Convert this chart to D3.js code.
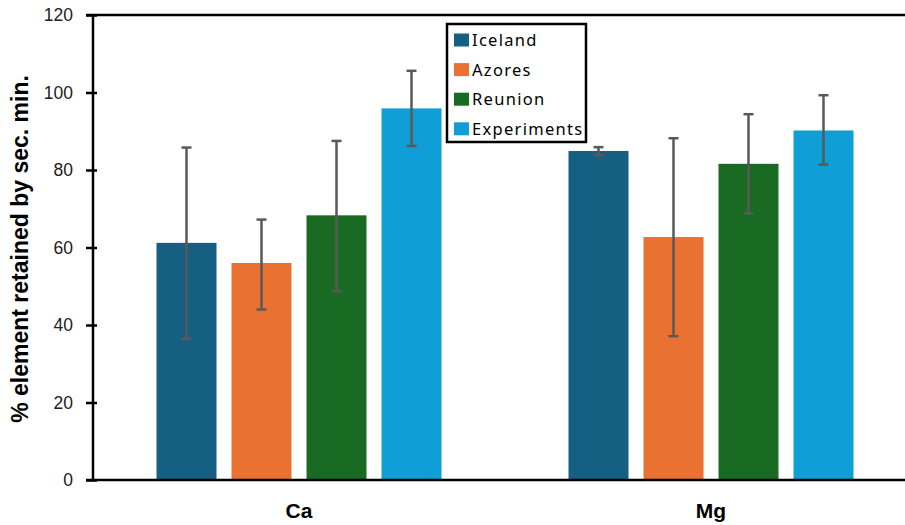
<!DOCTYPE html>
<meta charset="utf-8">
<style>
body { margin: 0; background: #fff; }
.tick text { font-family: "Liberation Sans", Arial, sans-serif; font-size: 17.5px; fill: #222; }
.legend text { font-family: "Noto Sans", sans-serif; font-size: 16.5px; letter-spacing: 1.3px; fill: #000; }
.cat { font-family: "Liberation Sans Narrow", "Liberation Sans", Arial, sans-serif; font-weight: bold; font-size: 21px; }
.ytitle { font-family: "Liberation Sans", Arial, sans-serif; font-weight: bold; font-size: 23px; }
</style>
<body>
<div id="chart"></div>
<script src="https://d3js.org/d3.v7.min.js"></script>
<script>

var elements = ["Ca", "Mg"];
var series = ["Iceland", "Azores", "Reunion", "Experiments"];
var colors = ["#156082", "#E97132", "#196B24", "#0F9ED5"];
// mean, low, high per element
var iceland     = [[61.2, 36.4, 85.8], [84.9, 83.8, 85.9]];
var azores      = [[56.0, 44.0, 67.2], [62.7, 37.1, 88.2]];
var reunion     = [[68.3, 48.7, 87.5], [81.6, 68.8, 94.4]];
var experiments = [[95.9, 86.2, 105.6], [90.2, 81.4, 99.3]];
var yTicks = [0, 20, 40, 60, 80, 100, 120];

var values = [iceland, azores, reunion, experiments];

var W = 905, H = 525;
var svg = d3.select("#chart").append("svg").attr("width", W).attr("height", H);

var x0 = d3.scalePoint().domain(elements).range([93, 917]).padding(0.5);
var x1 = d3.scaleBand().domain(series).range([-150, 150]).paddingInner(0.2).paddingOuter(0.1);
var y = d3.scaleLinear().domain([0, 120]).range([480, 15]);

// bars
var rows = [];
elements.forEach(function(el, i) {
  series.forEach(function(s, j) {
    rows.push({el: el, s: s, c: colors[j], v: values[j][i][0], lo: values[j][i][1], hi: values[j][i][2]});
  });
});

svg.append("g").selectAll("rect").data(rows).join("rect")
  .attr("x", d => x0(d.el) + x1(d.s))
  .attr("width", x1.bandwidth())
  .attr("y", d => y(d.v))
  .attr("height", d => y(0) - y(d.v))
  .attr("fill", d => d.c);

// error bars
var eg = svg.append("g").attr("stroke", "#595959").attr("stroke-width", 2.5).attr("fill", "none");
rows.forEach(function(d) {
  var cx = x0(d.el) + x1(d.s) + x1.bandwidth() / 2;
  eg.append("line").attr("x1", cx).attr("x2", cx).attr("y1", y(d.lo)).attr("y2", y(d.hi));
  eg.append("line").attr("x1", cx - 5).attr("x2", cx + 5).attr("y1", y(d.lo)).attr("y2", y(d.lo));
  eg.append("line").attr("x1", cx - 5).attr("x2", cx + 5).attr("y1", y(d.hi)).attr("y2", y(d.hi));
});

// y axis
var yAxis = svg.append("g").attr("transform", "translate(93,0)")
  .call(d3.axisLeft(y).tickValues(yTicks).tickSize(7).tickPadding(13));
yAxis.select(".domain").remove();
yAxis.selectAll(".tick line").attr("x2", 4).attr("x1", -7).attr("stroke", "#000").attr("stroke-width", 2.5);
svg.append("line").attr("x1", 93).attr("x2", 93).attr("y1", y(120)).attr("y2", y(0))
  .attr("stroke", "#000").attr("stroke-width", 2.5);
// frame lines top and bottom
[0, 120].forEach(function(v) {
  svg.append("line").attr("x1", 86).attr("x2", W).attr("y1", y(v)).attr("y2", y(v))
    .attr("stroke", "#000").attr("stroke-width", 2.5);
});

// category labels
svg.append("g").selectAll("text").data(elements).join("text")
  .attr("class", "cat")
  .attr("x", d => x0(d)).attr("y", 518)
  .attr("text-anchor", "middle")
  .text(d => d);

svg.append("text").attr("class", "ytitle")
  .attr("transform", "translate(28,249) rotate(-90)")
  .attr("text-anchor", "middle")
  .text("% element retained by sec. min.");

// legend
var lg = svg.append("g").attr("class", "legend");
lg.append("rect").attr("x", 447).attr("y", 24).attr("width", 139).attr("height", 118)
  .attr("fill", "#fff").attr("stroke", "#000").attr("stroke-width", 2.5);
series.forEach(function(s, j) {
  var cy = 40 + j * 29.6;
  lg.append("rect").attr("x", 454).attr("y", cy - 6.5).attr("width", 15).attr("height", 13).attr("fill", colors[j]);
  lg.append("text").attr("x", 472).attr("y", cy + 6).text(s);
});
</script>
</body>
</html>
